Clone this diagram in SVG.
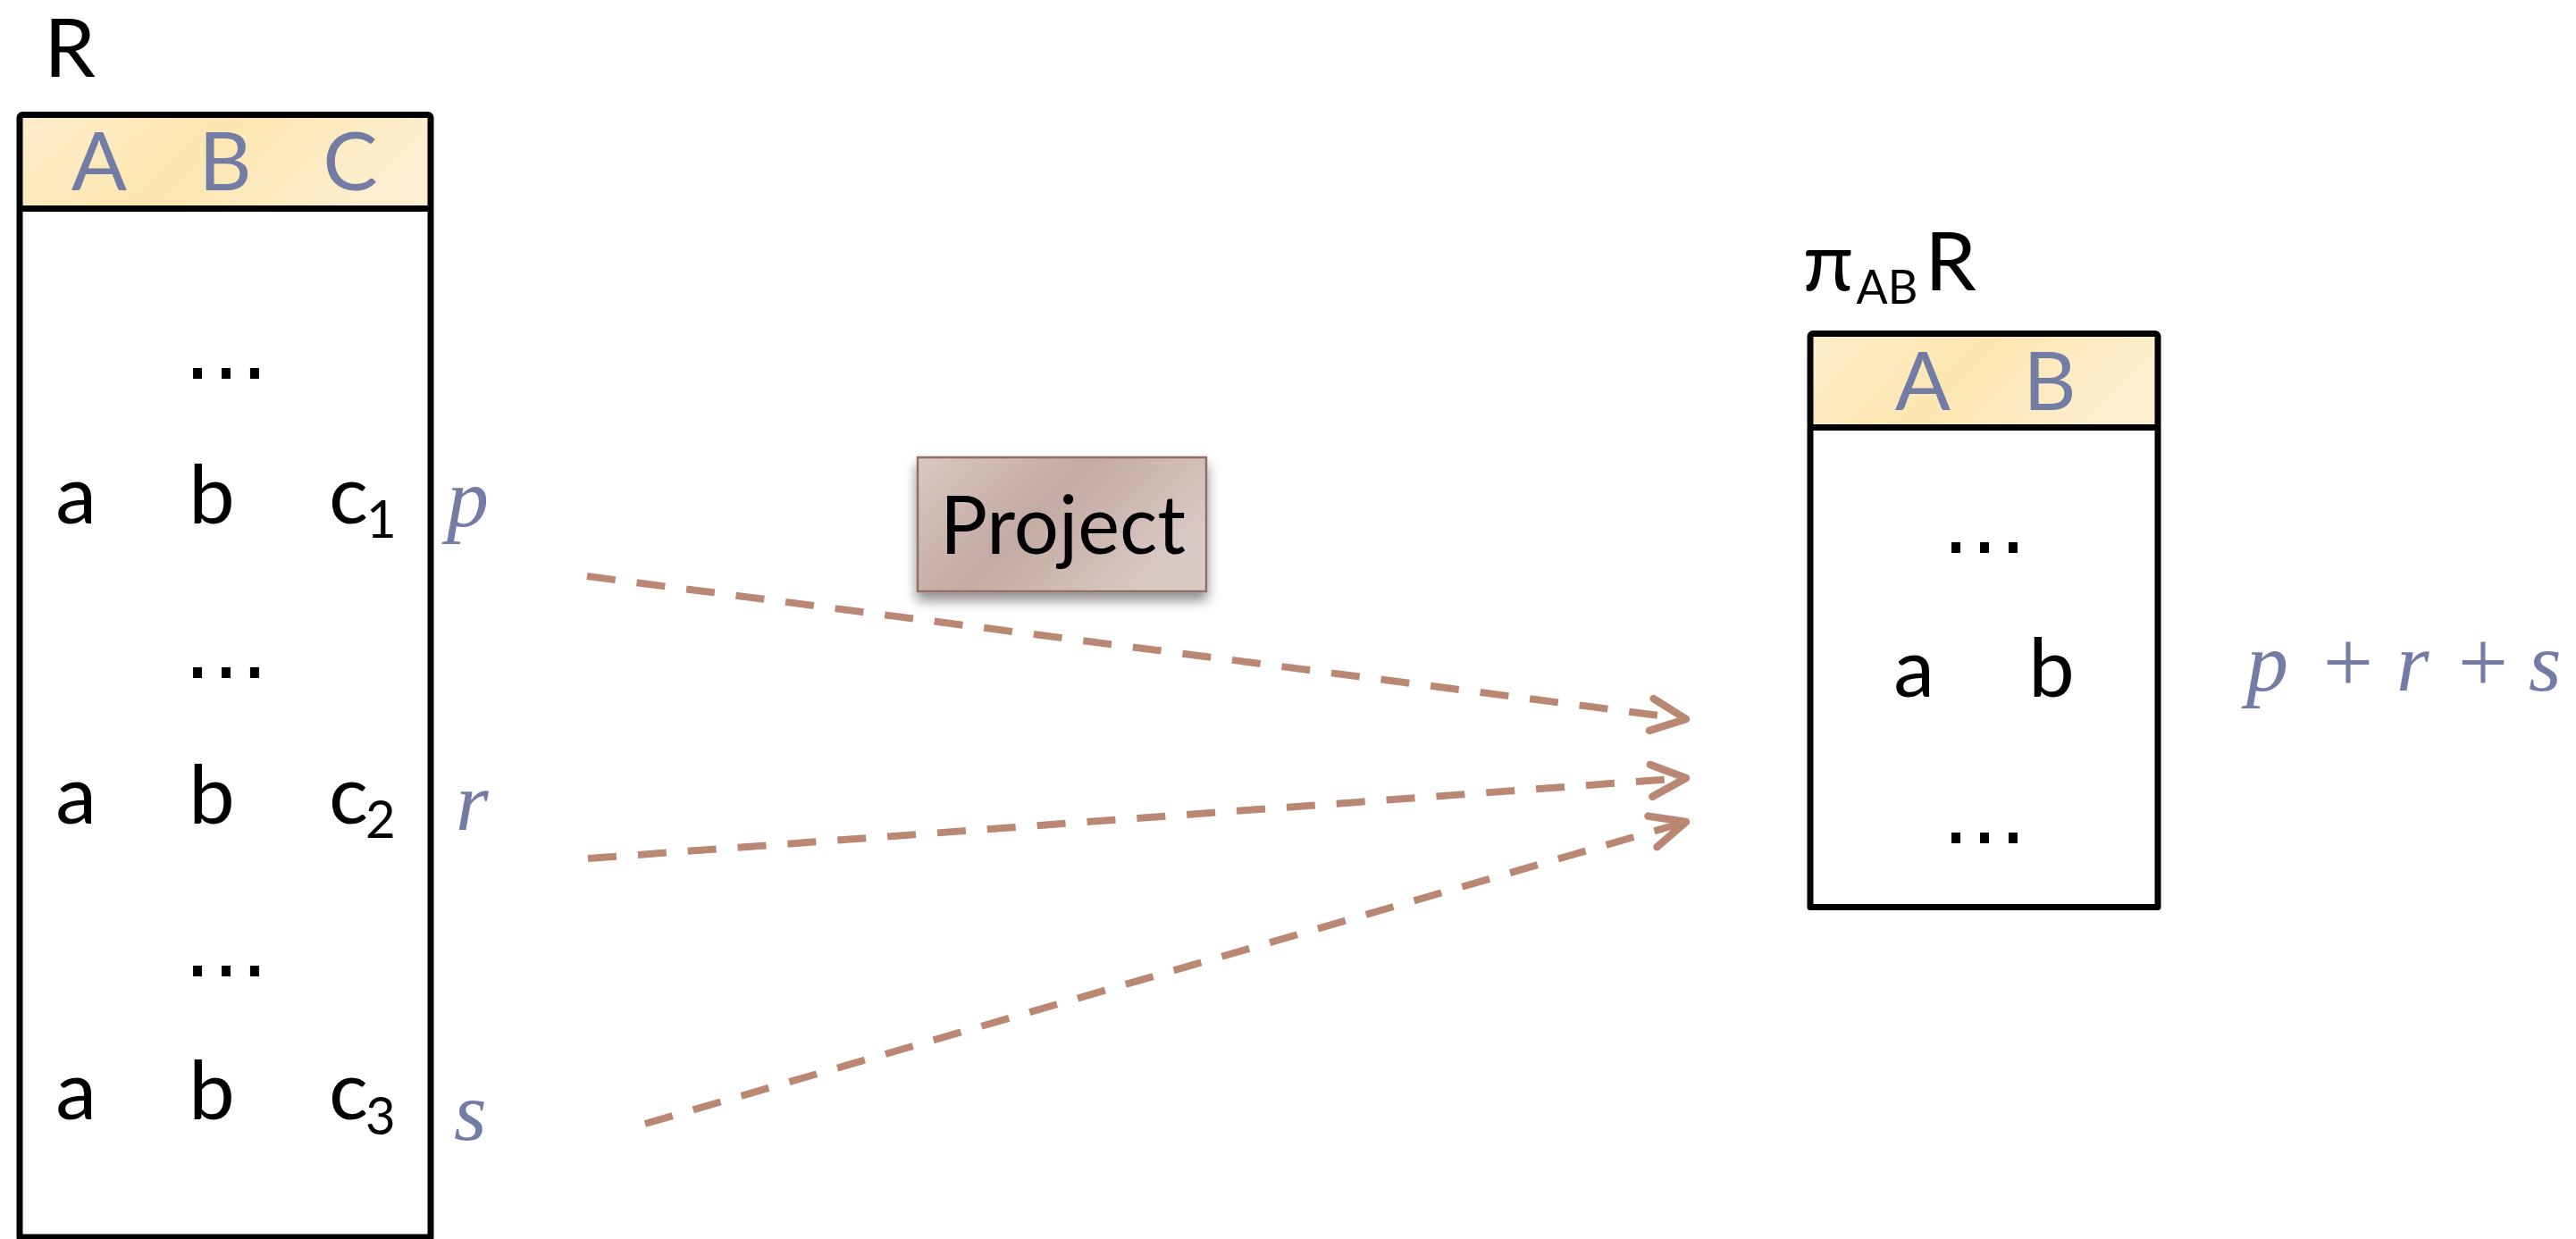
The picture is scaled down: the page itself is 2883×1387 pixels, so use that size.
<svg xmlns="http://www.w3.org/2000/svg" width="2883" height="1387" viewBox="0 0 2883 1387">
  <style>
    .sans { font-family: Lato, "Noto Sans", "DejaVu Sans", sans-serif; fill: #000; }
    .cell { font-size: 92px; }
    .dots { font-family: "DejaVu Sans", sans-serif; font-size: 96px; fill: #000; }
    .head { font-size: 92px; fill: #727ca5; }
    .math { font-family: "Liberation Serif", "Times New Roman", serif; font-style: italic; font-size: 94px; fill: #727ca5; }
    .op { font-family: "Liberation Serif", "Times New Roman", serif; font-style: normal; font-size: 100px; fill: #727ca5; }
    .sub { font-size: 58px; }
    .frame { fill: none; stroke: #000; stroke-width: 7; stroke-linejoin: round; }
    .hdr { fill: url(#hdrFill); stroke: #000; stroke-width: 7; stroke-linejoin: round; }
    .flow { fill: none; stroke: #ba8773; stroke-width: 8; stroke-dasharray: 32 24; marker-end: url(#chevron); }
  </style>
  <defs>
    <linearGradient id="hdrFill" x1="0" y1="0" x2="1" y2="0.25">
      <stop offset="0" stop-color="#fdedcc"/>
      <stop offset="0.5" stop-color="#fde6b0"/>
      <stop offset="1" stop-color="#fdeecf"/>
    </linearGradient>
    <linearGradient id="opFill" x1="0" y1="0" x2="1" y2="0.45">
      <stop offset="0" stop-color="#d9c8c2"/>
      <stop offset="0.5" stop-color="#c3aaa2"/>
      <stop offset="1" stop-color="#d9c9c3"/>
    </linearGradient>
    <filter id="drop" x="-20%" y="-20%" width="140%" height="160%">
      <feDropShadow dx="0" dy="9" stdDeviation="7" flood-color="#000" flood-opacity="0.45"/>
    </filter>
    <marker id="chevron" markerUnits="userSpaceOnUse" orient="auto" markerWidth="60" markerHeight="60" viewBox="-50 -30 60 60" refX="0" refY="0" overflow="visible">
      <path d="M-39,-18 L0,0 L-39,18" fill="none" stroke="#ba8773" stroke-width="8.5" stroke-linecap="round" stroke-linejoin="round" stroke-dasharray="none"/>
    </marker>
  </defs>

  <rect width="2883" height="1387" fill="#fff"/>

  <!-- relation R -->
  <g id="table-R">
    <text class="sans cell" x="78" y="86" text-anchor="middle">R</text>
    <rect class="frame" x="22" y="233.5" width="460" height="1151.5"/>
    <rect class="hdr" x="22" y="128.5" width="460" height="105" rx="3"/>
    <text class="sans head" x="111" y="213" text-anchor="middle">A</text>
    <text class="sans head" x="252" y="213" text-anchor="middle">B</text>
    <text class="sans head" x="392" y="213" text-anchor="middle">C</text>

    <text class="dots" x="253" y="424" text-anchor="middle">…</text>
    <text class="sans cell" x="85" y="586" text-anchor="middle">a</text>
    <text class="sans cell" x="237" y="586" text-anchor="middle">b</text>
    <text class="sans cell" x="368" y="586">c</text>
    <text class="sans sub" x="410" y="602">1</text>

    <text class="dots" x="253" y="759" text-anchor="middle">…</text>
    <text class="sans cell" x="85" y="922" text-anchor="middle">a</text>
    <text class="sans cell" x="237" y="922" text-anchor="middle">b</text>
    <text class="sans cell" x="368" y="922">c</text>
    <text class="sans sub" x="409" y="938">2</text>

    <text class="dots" x="253" y="1093" text-anchor="middle">…</text>
    <text class="sans cell" x="85" y="1253" text-anchor="middle">a</text>
    <text class="sans cell" x="237" y="1253" text-anchor="middle">b</text>
    <text class="sans cell" x="368" y="1253">c</text>
    <text class="sans sub" x="409" y="1270">3</text>

    <text class="math" x="500" y="589">p</text>
    <text class="math" x="510" y="929">r</text>
    <text class="math" x="508" y="1276">s</text>
  </g>

  <!-- projection operator -->
  <g id="op-project">
    <rect x="1027" y="512" width="323" height="150" fill="url(#opFill)" stroke="#8e6e65" stroke-width="2.5" filter="url(#drop)"/>
    <text class="sans cell" x="1052" y="620" textLength="275" lengthAdjust="spacingAndGlyphs">Project</text>
  </g>

  <!-- result relation πAB R -->
  <g id="table-piAB">
    <text class="sans cell" x="2046" y="325" text-anchor="middle">π</text>
    <text class="sans" x="2112" y="340" font-size="52" text-anchor="middle">AB</text>
    <text class="sans cell" x="2183" y="325" text-anchor="middle">R</text>
    <rect class="frame" x="2026" y="478.5" width="389" height="537"/>
    <rect class="hdr" x="2026" y="373.5" width="389" height="105" rx="3"/>
    <text class="sans head" x="2152" y="459" text-anchor="middle">A</text>
    <text class="sans head" x="2294" y="459" text-anchor="middle">B</text>

    <text class="dots" x="2221" y="619" text-anchor="middle">…</text>
    <text class="sans cell" x="2142" y="780" text-anchor="middle">a</text>
    <text class="sans cell" x="2296" y="780" text-anchor="middle">b</text>
    <text class="dots" x="2221" y="944" text-anchor="middle">…</text>

    <text class="math" x="2514" y="773">p</text>
    <text class="op" x="2628" y="775" text-anchor="middle">+</text>
    <text class="math" x="2682" y="773">r</text>
    <text class="op" x="2779" y="775" text-anchor="middle">+</text>
    <text class="math" x="2830" y="773">s</text>
  </g>

  <!-- dashed flows into the projection result -->
  <g id="connectors">
    <line class="flow" x1="657" y1="645" x2="1887" y2="805"/>
    <line class="flow" x1="658" y1="961" x2="1887" y2="871"/>
    <line class="flow" x1="722" y1="1258" x2="1887" y2="920"/>
  </g>
</svg>
